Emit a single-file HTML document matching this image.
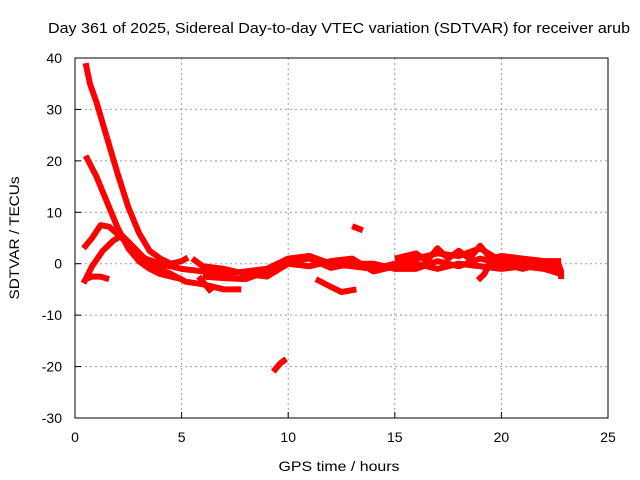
<!DOCTYPE html>
<html><head><meta charset="utf-8"><style>
body{margin:0;background:#fff}
svg{display:block;font-family:"Liberation Sans",sans-serif}
</style></head><body>
<svg id="c" width="640" height="480">
<text x="339" y="33" font-size="15" text-anchor="middle" textLength="582" lengthAdjust="spacingAndGlyphs">Day 361 of 2025, Sidereal Day-to-day VTEC variation (SDTVAR) for receiver arub</text>
<text x="339" y="471" font-size="14" text-anchor="middle" textLength="121" lengthAdjust="spacingAndGlyphs">GPS time / hours</text>
<text transform="translate(19,238) rotate(-90)" font-size="14" text-anchor="middle" textLength="123" lengthAdjust="spacingAndGlyphs">SDTVAR / TECUs</text>
<g id="grid"></g><g id="axes"></g><g id="marks"></g>
<rect x="75" y="58" width="533" height="360" fill="none" stroke="#000" stroke-width="1"/>
</svg>
<script>
const xTicks=[0,5,10,15,20,25];
const yTicks=[40,30,20,10,0,-10,-20,-30];
const track1=[[0.5,39],[0.7,35],[1,31.5],[1.5,24.5],[2,17.5],[2.5,11],[3,6],[3.5,2.5],[4,1],[4.5,0],[5,0.5],[5.3,1.2]];
const track2=[[0.5,21],[1,17],[1.5,12],[2,7],[2.5,3],[3,0.5],[3.5,-1],[4,-2],[4.5,-2.5],[5,-3]];
const track3=[[0.4,3],[0.8,5],[1.2,7.5],[1.6,7.2],[2.2,5],[2.8,2.5],[3.3,1],[4,0],[4.5,-0.5]];
const track4=[[0.4,-3.8],[0.8,-0.5],[1.3,2.5],[1.8,4.5],[2.2,5.5],[2.8,3],[3.5,0],[4.5,-2],[5.2,-3.5],[6,-4],[7,-5],[7.8,-5]];
const track5=[[0.5,-3],[0.8,-2.5],[1.2,-2.5],[1.6,-3]];
const band1=[[4,0],[5,-1],[6,-1.5],[7,-2],[8,-1.5],[9,-1],[10,1],[11,1.5],[12,0],[13,-0.5],[14,-1],[15,0],[16,1],[17,2],[18,1.5],[19,3],[20,0.5],[21,0],[22,0],[22.8,-1]];
const band2=[[5.5,1],[6,-0.5],[7,-1],[8,-2],[9,-2.5],[10,0],[11,-0.5],[12,0.5],[13,1],[14,-1.5],[15,-0.5],[16,0],[17,-1],[18,0],[19,-0.5],[20,-1],[21,-0.5],[22,-1],[22.8,-2]];
const band3=[[15,1],[16,2],[16.5,0.5],[17,3],[17.5,1],[18,2.5],[18.5,1],[19,3.5],[19.5,1],[20,1.5],[21,1],[22,0.5],[22.8,0.5]];
const band4=[[6,-2.5],[7,-2.8],[8,-3],[9,-1.5],[10,0.5],[11,1],[12,-0.8],[13,0],[14,0],[15,-1],[16,-1],[17,0.5],[18,-0.5],[19,1],[20,0],[21,-1],[22,0],[22.8,-1.5]];
const track6=[[11.3,-3],[12,-4.5],[12.5,-5.5],[13.2,-5]];
const track7=[[13,7.3],[13.5,6.5]];
const track8=[[9.3,-21],[9.6,-19.5],[9.9,-18.5]];
const track9=[[19.5,0.5],[19.2,-2],[18.9,-3.2]];
const track10=[[5.8,-2.5],[6.1,-4],[6.4,-5.5]];
const track11=[[22.6,0.8],[22.8,-1.5],[22.8,-3]];
const tracks=[track1,track2,track3,track4,track5,band1,band2,band3,band4,track6,track7,track8,track9,track10,track11];
const X=v=>75+v*533/25, Y=v=>58+(40-v)*360/70;
const NS="http://www.w3.org/2000/svg";
const grid=document.getElementById('grid'),axes=document.getElementById('axes'),marks=document.getElementById('marks');
function mk(tag,parent){const e=document.createElementNS(NS,tag);parent.appendChild(e);return e;}
xTicks.forEach(t=>{
 if(t>0&&t<25){const l=mk('line',grid);l.setAttribute('x1',X(t));l.setAttribute('x2',X(t));l.setAttribute('y1',58);l.setAttribute('y2',418);l.setAttribute('stroke','#999');l.setAttribute('stroke-dasharray','2,3');
 
 }
 const k=mk('line',axes);k.setAttribute('x1',X(t));k.setAttribute('x2',X(t));k.setAttribute('y1',418);k.setAttribute('y2',412);k.setAttribute('stroke','#000');
 
 
 const tx=mk('text',axes);tx.setAttribute('x',X(t));tx.setAttribute('y',442);tx.setAttribute('font-size','14');tx.setAttribute('text-anchor','middle');tx.textContent=t;
 
 
});
yTicks.forEach(t=>{
 if(t<40&&t>-30){const l=mk('line',grid);l.setAttribute('x1',75);l.setAttribute('x2',608);l.setAttribute('y1',Y(t));l.setAttribute('y2',Y(t));l.setAttribute('stroke','#999');l.setAttribute('stroke-dasharray','2,3');
 
 }
 const k=mk('line',axes);k.setAttribute('x1',75);k.setAttribute('x2',81);k.setAttribute('y1',Y(t));k.setAttribute('y2',Y(t));k.setAttribute('stroke','#000');
 
 
 const tx=mk('text',axes);tx.setAttribute('x',62);tx.setAttribute('y',Y(t)+5);tx.setAttribute('font-size','14');tx.setAttribute('text-anchor','end');tx.textContent=t;
 
 
});
tracks.forEach(tr=>{
 const p=mk('polyline',marks);
 p.setAttribute('points',tr.map(d=>X(d[0])+','+Y(d[1])).join(' '));
 p.setAttribute('fill','none');p.setAttribute('stroke','#f00');p.setAttribute('stroke-width','6');p.setAttribute('stroke-linejoin','round');
 
 
});
</script>
</body></html>
